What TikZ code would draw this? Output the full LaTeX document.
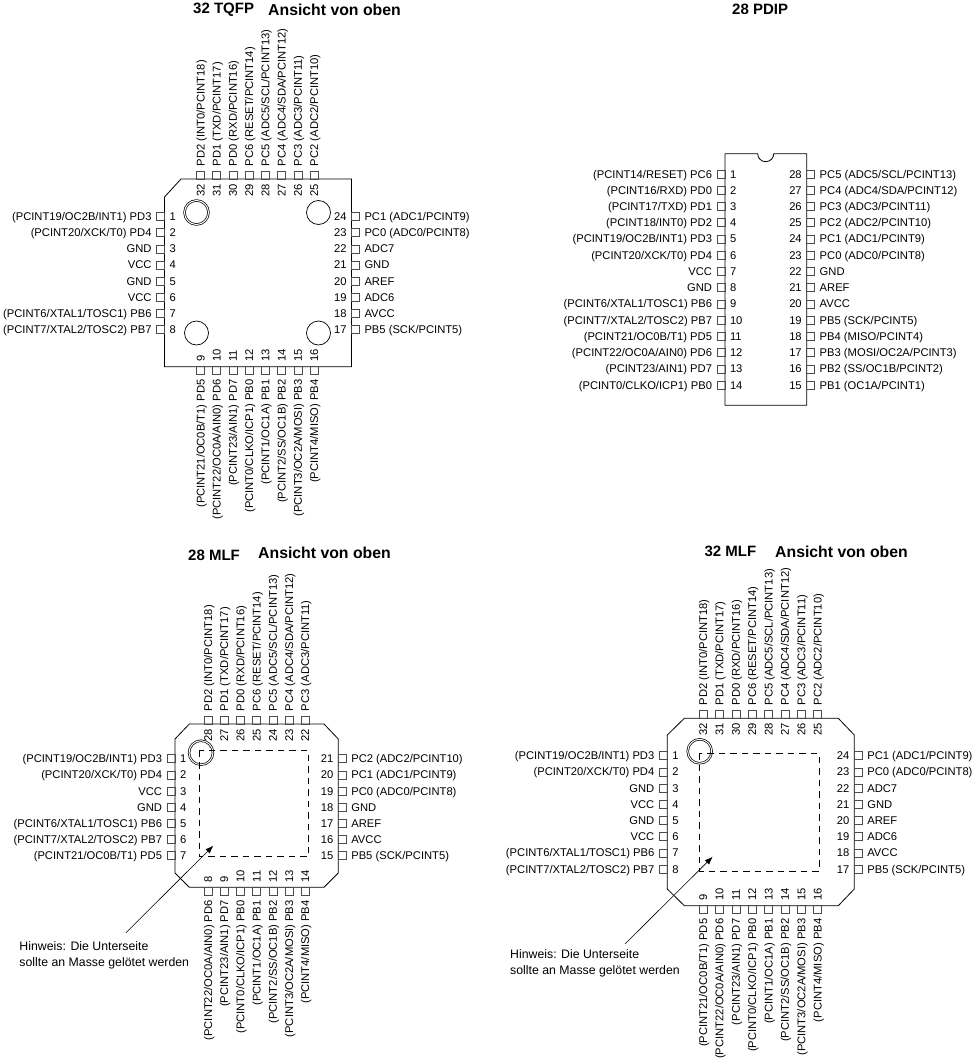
\documentclass[tikz,border=0pt]{standalone}
\usepackage{fontspec}
\setmainfont{Liberation Sans}
\usetikzlibrary{arrows.meta}
\tikzset{
	pad/.style={draw=black!70,line width=.6pt,minimum size=8pt,inner sep=0pt},
	every label/.style={inner sep=0pt,text height=8pt,text depth=0pt,font=\fontsize{11.2}{13}\selectfont},
	upw/.style={rotate=90,anchor=west,xshift=4.5pt,yshift=-4.5pt},
	dnw/.style={rotate=90,anchor=east,xshift=-4.5pt,yshift=4.5pt},
	chip/.style={draw=black,line width=.8pt},
	ring/.style={circle,draw=black,line width=.7pt,minimum size=24pt,inner sep=0pt},
	ringdbl/.style={ring,double,double distance=1pt},
	ttl/.style={anchor=west,inner sep=0pt,font=\bfseries\fontsize{15}{18}\selectfont},
	ttlview/.style={anchor=west,inner sep=0pt,font=\bfseries\fontsize{15.8}{18}\selectfont},
	hint/.style={anchor=north west,inner sep=0pt,align=left,font=\fontsize{12.3}{16}\selectfont},
	padarea/.style={draw=black,line width=.7pt,dash pattern=on 6.5pt off 5pt},
	hintarrow/.style={draw=black,line width=.6pt,-{Latex[length=8pt,width=6pt]}}
}
\begin{document}
\begin{tikzpicture}[x=1pt,y=-1pt,label distance=4.5pt]
	\useasboundingbox (0,0) rectangle (975,1060);

	\node[ttl] (tqname) at (193,10) {32 TQFP};
	\node[ttlview] (tqview) at (268,10) {Ansicht von oben};
	\draw[chip] (181,179)--(351.5,179)--(351.5,366.7)--(164.5,366.7)--(164.5,197)--cycle;
	\node[ringdbl] (tqc1) at (196.5,212.5) {};
	\node[ring] (tqc2) at (318.5,212.5) {};
	\node[ring] (tqc3) at (196.5,333) {};
	\node[ring] (tqc4) at (318.5,333) {};
	\node[pad,label={left:(PCINT19/OC2B/INT1) PD3},label={right:1}] (tq1) at (160.5,216.5) {};
	\node[pad,label={left:(PCINT20/XCK/T0) PD4},label={right:2}] (tq2) at (160.5,232.6) {};
	\node[pad,label={left:GND},label={right:3}] (tq3) at (160.5,248.8) {};
	\node[pad,label={left:VCC},label={right:4}] (tq4) at (160.5,264.9) {};
	\node[pad,label={left:GND},label={right:5}] (tq5) at (160.5,281.1) {};
	\node[pad,label={left:VCC},label={right:6}] (tq6) at (160.5,297.2) {};
	\node[pad,label={left:(PCINT6/XTAL1/TOSC1) PB6},label={right:7}] (tq7) at (160.5,313.4) {};
	\node[pad,label={left:(PCINT7/XTAL2/TOSC2) PB7},label={right:8}] (tq8) at (160.5,329.5) {};
	\node[pad,label={[dnw]below:(PCINT21/OC0B/T1) PD5},label={[upw]above:9}] (tq9) at (200.5,370.5) {};
	\node[pad,label={[dnw]below:(PCINT22/OC0A/AIN0) PD6},label={[upw]above:10}] (tq10) at (216.7,370.5) {};
	\node[pad,label={[dnw]below:(PCINT23/AIN1) PD7},label={[upw]above:11}] (tq11) at (232.9,370.5) {};
	\node[pad,label={[dnw]below:(PCINT0/CLKO/ICP1) PB0},label={[upw]above:12}] (tq12) at (249.1,370.5) {};
	\node[pad,label={[dnw]below:(PCINT1/OC1A) PB1},label={[upw]above:13}] (tq13) at (265.3,370.5) {};
	\node[pad,label={[dnw]below:(PCINT2/SS/OC1B) PB2},label={[upw]above:14}] (tq14) at (281.6,370.5) {};
	\node[pad,label={[dnw]below:(PCINT3/OC2A/MOSI) PB3},label={[upw]above:15}] (tq15) at (297.8,370.5) {};
	\node[pad,label={[dnw]below:(PCINT4/MISO) PB4},label={[upw]above:16}] (tq16) at (314,370.5) {};
	\node[pad,label={right:PB5 (SCK/PCINT5)},label={left:17}] (tq17) at (355.5,329.5) {};
	\node[pad,label={right:AVCC},label={left:18}] (tq18) at (355.5,313.4) {};
	\node[pad,label={right:ADC6},label={left:19}] (tq19) at (355.5,297.2) {};
	\node[pad,label={right:AREF},label={left:20}] (tq20) at (355.5,281.1) {};
	\node[pad,label={right:GND},label={left:21}] (tq21) at (355.5,264.9) {};
	\node[pad,label={right:ADC7},label={left:22}] (tq22) at (355.5,248.8) {};
	\node[pad,label={right:PC0 (ADC0/PCINT8)},label={left:23}] (tq23) at (355.5,232.6) {};
	\node[pad,label={right:PC1 (ADC1/PCINT9)},label={left:24}] (tq24) at (355.5,216.5) {};
	\node[pad,label={[upw]above:PC2 (ADC2/PCINT10)},label={[dnw]below:25}] (tq25) at (314,175) {};
	\node[pad,label={[upw]above:PC3 (ADC3/PCINT11)},label={[dnw]below:26}] (tq26) at (297.8,175) {};
	\node[pad,label={[upw]above:PC4 (ADC4/SDA/PCINT12)},label={[dnw]below:27}] (tq27) at (281.6,175) {};
	\node[pad,label={[upw]above:PC5 (ADC5/SCL/PCINT13)},label={[dnw]below:28}] (tq28) at (265.3,175) {};
	\node[pad,label={[upw]above:PC6 (RESET/PCINT14)},label={[dnw]below:29}] (tq29) at (249.1,175) {};
	\node[pad,label={[upw]above:PD0 (RXD/PCINT16)},label={[dnw]below:30}] (tq30) at (232.9,175) {};
	\node[pad,label={[upw]above:PD1 (TXD/PCINT17)},label={[dnw]below:31}] (tq31) at (216.7,175) {};
	\node[pad,label={[upw]above:PD2 (INT0/PCINT18)},label={[dnw]below:32}] (tq32) at (200.5,175) {};

	\node[ttl] (pdname) at (732,9) {28 PDIP};
	\draw[chip] (725,153.7)--(757.7,153.7) arc (180:0:8)--(806.7,153.7)--(806.7,405.3)--(725,405.3)--cycle;
	\node[pad,label={left:(PCINT14/RESET) PC6},label={right:1}] (pd1) at (721,174) {};
	\node[pad,label={left:(PCINT16/RXD) PD0},label={right:2}] (pd2) at (721,190.2) {};
	\node[pad,label={left:(PCINT17/TXD) PD1},label={right:3}] (pd3) at (721,206.5) {};
	\node[pad,label={left:(PCINT18/INT0) PD2},label={right:4}] (pd4) at (721,222.7) {};
	\node[pad,label={left:(PCINT19/OC2B/INT1) PD3},label={right:5}] (pd5) at (721,238.9) {};
	\node[pad,label={left:(PCINT20/XCK/T0) PD4},label={right:6}] (pd6) at (721,255.2) {};
	\node[pad,label={left:VCC},label={right:7}] (pd7) at (721,271.4) {};
	\node[pad,label={left:GND},label={right:8}] (pd8) at (721,287.6) {};
	\node[pad,label={left:(PCINT6/XTAL1/TOSC1) PB6},label={right:9}] (pd9) at (721,303.8) {};
	\node[pad,label={left:(PCINT7/XTAL2/TOSC2) PB7},label={right:10}] (pd10) at (721,320.1) {};
	\node[pad,label={left:(PCINT21/OC0B/T1) PD5},label={right:11}] (pd11) at (721,336.3) {};
	\node[pad,label={left:(PCINT22/OC0A/AIN0) PD6},label={right:12}] (pd12) at (721,352.5) {};
	\node[pad,label={left:(PCINT23/AIN1) PD7},label={right:13}] (pd13) at (721,368.8) {};
	\node[pad,label={left:(PCINT0/CLKO/ICP1) PB0},label={right:14}] (pd14) at (721,385) {};
	\node[pad,label={right:PB1 (OC1A/PCINT1)},label={left:15}] (pd15) at (810.7,385) {};
	\node[pad,label={right:PB2 (SS/OC1B/PCINT2)},label={left:16}] (pd16) at (810.7,368.8) {};
	\node[pad,label={right:PB3 (MOSI/OC2A/PCINT3)},label={left:17}] (pd17) at (810.7,352.5) {};
	\node[pad,label={right:PB4 (MISO/PCINT4)},label={left:18}] (pd18) at (810.7,336.3) {};
	\node[pad,label={right:PB5 (SCK/PCINT5)},label={left:19}] (pd19) at (810.7,320.1) {};
	\node[pad,label={right:AVCC},label={left:20}] (pd20) at (810.7,303.8) {};
	\node[pad,label={right:AREF},label={left:21}] (pd21) at (810.7,287.6) {};
	\node[pad,label={right:GND},label={left:22}] (pd22) at (810.7,271.4) {};
	\node[pad,label={right:PC0 (ADC0/PCINT8)},label={left:23}] (pd23) at (810.7,255.2) {};
	\node[pad,label={right:PC1 (ADC1/PCINT9)},label={left:24}] (pd24) at (810.7,238.9) {};
	\node[pad,label={right:PC2 (ADC2/PCINT10)},label={left:25}] (pd25) at (810.7,222.7) {};
	\node[pad,label={right:PC3 (ADC3/PCINT11)},label={left:26}] (pd26) at (810.7,206.5) {};
	\node[pad,label={right:PC4 (ADC4/SDA/PCINT12)},label={left:27}] (pd27) at (810.7,190.2) {};
	\node[pad,label={right:PC5 (ADC5/SCL/PCINT13)},label={left:28}] (pd28) at (810.7,174) {};

	\node[ttl] (maname) at (188,555) {28 MLF};
	\node[ttlview] (maview) at (258,553) {Ansicht von oben};
	\draw[chip] (189.3,724)--(324,724)--(338.3,739)--(338.3,873)--(324,887.3)--(189.3,887.3)--(175,873)--(175,739)--cycle;
	\node[ringdbl] (mac1) at (201,752.7) {};
	\draw[padarea] (199.3,750.7) rectangle (308.3,856.7);
	\node[hint] (mahint) at (19.3,941) {Hinweis: Die Unterseite\\sollte an Masse gelötet werden};
	\coordinate (mafrom) at (126,932.7);
	\coordinate (mato) at (213.3,845.7);
	\draw[hintarrow] (mafrom)--(mato);
	\node[pad,label={left:(PCINT19/OC2B/INT1) PD3},label={right:1}] (ma1) at (171,758.7) {};
	\node[pad,label={left:(PCINT20/XCK/T0) PD4},label={right:2}] (ma2) at (171,774.9) {};
	\node[pad,label={left:VCC},label={right:3}] (ma3) at (171,791) {};
	\node[pad,label={left:GND},label={right:4}] (ma4) at (171,807.2) {};
	\node[pad,label={left:(PCINT6/XTAL1/TOSC1) PB6},label={right:5}] (ma5) at (171,823.4) {};
	\node[pad,label={left:(PCINT7/XTAL2/TOSC2) PB7},label={right:6}] (ma6) at (171,839.6) {};
	\node[pad,label={left:(PCINT21/OC0B/T1) PD5},label={right:7}] (ma7) at (171,855.7) {};
	\node[pad,label={[dnw]below:(PCINT22/OC0A/AIN0) PD6},label={[upw]above:8}] (ma8) at (208,891.3) {};
	\node[pad,label={[dnw]below:(PCINT23/AIN1) PD7},label={[upw]above:9}] (ma9) at (224.2,891.3) {};
	\node[pad,label={[dnw]below:(PCINT0/CLKO/ICP1) PB0},label={[upw]above:10}] (ma10) at (240.4,891.3) {};
	\node[pad,label={[dnw]below:(PCINT1/OC1A) PB1},label={[upw]above:11}] (ma11) at (256.6,891.3) {};
	\node[pad,label={[dnw]below:(PCINT2/SS/OC1B) PB2},label={[upw]above:12}] (ma12) at (272.8,891.3) {};
	\node[pad,label={[dnw]below:(PCINT3/OC2A/MOSI) PB3},label={[upw]above:13}] (ma13) at (289,891.3) {};
	\node[pad,label={[dnw]below:(PCINT4/MISO) PB4},label={[upw]above:14}] (ma14) at (305.2,891.3) {};
	\node[pad,label={right:PB5 (SCK/PCINT5)},label={left:15}] (ma15) at (342.3,855.7) {};
	\node[pad,label={right:AVCC},label={left:16}] (ma16) at (342.3,839.6) {};
	\node[pad,label={right:AREF},label={left:17}] (ma17) at (342.3,823.4) {};
	\node[pad,label={right:GND},label={left:18}] (ma18) at (342.3,807.2) {};
	\node[pad,label={right:PC0 (ADC0/PCINT8)},label={left:19}] (ma19) at (342.3,791) {};
	\node[pad,label={right:PC1 (ADC1/PCINT9)},label={left:20}] (ma20) at (342.3,774.9) {};
	\node[pad,label={right:PC2 (ADC2/PCINT10)},label={left:21}] (ma21) at (342.3,758.7) {};
	\node[pad,label={[upw]above:PC3 (ADC3/PCINT11)},label={[dnw]below:22}] (ma22) at (305.2,720) {};
	\node[pad,label={[upw]above:PC4 (ADC4/SDA/PCINT12)},label={[dnw]below:23}] (ma23) at (289,720) {};
	\node[pad,label={[upw]above:PC5 (ADC5/SCL/PCINT13)},label={[dnw]below:24}] (ma24) at (272.8,720) {};
	\node[pad,label={[upw]above:PC6 (RESET/PCINT14)},label={[dnw]below:25}] (ma25) at (256.6,720) {};
	\node[pad,label={[upw]above:PD0 (RXD/PCINT16)},label={[dnw]below:26}] (ma26) at (240.4,720) {};
	\node[pad,label={[upw]above:PD1 (TXD/PCINT17)},label={[dnw]below:27}] (ma27) at (224.2,720) {};
	\node[pad,label={[upw]above:PD2 (INT0/PCINT18)},label={[dnw]below:28}] (ma28) at (208,720) {};

	\node[ttl] (mbname) at (704.3,551.7) {32 MLF};
	\node[ttlview] (mbview) at (775,551.7) {Ansicht von oben};
	\draw[chip] (684.3,718.3)--(838.3,718.3)--(854.3,735)--(854.3,889)--(838.3,905.7)--(684.3,905.7)--(667.3,889)--(667.3,735)--cycle;
	\node[ringdbl] (mbc1) at (699.7,751.3) {};
	\draw[padarea] (699.7,753.3) rectangle (819,871);
	\node[hint] (mbhint) at (510,949) {Hinweis: Die Unterseite\\sollte an Masse gelötet werden};
	\coordinate (mbfrom) at (625,944);
	\coordinate (mbto) at (712.7,856.7);
	\draw[hintarrow] (mbfrom)--(mbto);
	\node[pad,label={left:(PCINT19/OC2B/INT1) PD3},label={right:1}] (mb1) at (663.3,755.7) {};
	\node[pad,label={left:(PCINT20/XCK/T0) PD4},label={right:2}] (mb2) at (663.3,771.9) {};
	\node[pad,label={left:GND},label={right:3}] (mb3) at (663.3,788.1) {};
	\node[pad,label={left:VCC},label={right:4}] (mb4) at (663.3,804.3) {};
	\node[pad,label={left:GND},label={right:5}] (mb5) at (663.3,820.5) {};
	\node[pad,label={left:VCC},label={right:6}] (mb6) at (663.3,836.7) {};
	\node[pad,label={left:(PCINT6/XTAL1/TOSC1) PB6},label={right:7}] (mb7) at (663.3,852.9) {};
	\node[pad,label={left:(PCINT7/XTAL2/TOSC2) PB7},label={right:8}] (mb8) at (663.3,869.1) {};
	\node[pad,label={[dnw]below:(PCINT21/OC0B/T1) PD5},label={[upw]above:9}] (mb9) at (703,909.7) {};
	\node[pad,label={[dnw]below:(PCINT22/OC0A/AIN0) PD6},label={[upw]above:10}] (mb10) at (719.4,909.7) {};
	\node[pad,label={[dnw]below:(PCINT23/AIN1) PD7},label={[upw]above:11}] (mb11) at (735.8,909.7) {};
	\node[pad,label={[dnw]below:(PCINT0/CLKO/ICP1) PB0},label={[upw]above:12}] (mb12) at (752.1,909.7) {};
	\node[pad,label={[dnw]below:(PCINT1/OC1A) PB1},label={[upw]above:13}] (mb13) at (768.5,909.7) {};
	\node[pad,label={[dnw]below:(PCINT2/SS/OC1B) PB2},label={[upw]above:14}] (mb14) at (784.9,909.7) {};
	\node[pad,label={[dnw]below:(PCINT3/OC2A/MOSI) PB3},label={[upw]above:15}] (mb15) at (801.3,909.7) {};
	\node[pad,label={[dnw]below:(PCINT4/MISO) PB4},label={[upw]above:16}] (mb16) at (817.7,909.7) {};
	\node[pad,label={right:PB5 (SCK/PCINT5)},label={left:17}] (mb17) at (858.3,869.1) {};
	\node[pad,label={right:AVCC},label={left:18}] (mb18) at (858.3,852.9) {};
	\node[pad,label={right:ADC6},label={left:19}] (mb19) at (858.3,836.7) {};
	\node[pad,label={right:AREF},label={left:20}] (mb20) at (858.3,820.5) {};
	\node[pad,label={right:GND},label={left:21}] (mb21) at (858.3,804.3) {};
	\node[pad,label={right:ADC7},label={left:22}] (mb22) at (858.3,788.1) {};
	\node[pad,label={right:PC0 (ADC0/PCINT8)},label={left:23}] (mb23) at (858.3,771.9) {};
	\node[pad,label={right:PC1 (ADC1/PCINT9)},label={left:24}] (mb24) at (858.3,755.7) {};
	\node[pad,label={[upw]above:PC2 (ADC2/PCINT10)},label={[dnw]below:25}] (mb25) at (817.7,714.3) {};
	\node[pad,label={[upw]above:PC3 (ADC3/PCINT11)},label={[dnw]below:26}] (mb26) at (801.3,714.3) {};
	\node[pad,label={[upw]above:PC4 (ADC4/SDA/PCINT12)},label={[dnw]below:27}] (mb27) at (784.9,714.3) {};
	\node[pad,label={[upw]above:PC5 (ADC5/SCL/PCINT13)},label={[dnw]below:28}] (mb28) at (768.5,714.3) {};
	\node[pad,label={[upw]above:PC6 (RESET/PCINT14)},label={[dnw]below:29}] (mb29) at (752.1,714.3) {};
	\node[pad,label={[upw]above:PD0 (RXD/PCINT16)},label={[dnw]below:30}] (mb30) at (735.8,714.3) {};
	\node[pad,label={[upw]above:PD1 (TXD/PCINT17)},label={[dnw]below:31}] (mb31) at (719.4,714.3) {};
	\node[pad,label={[upw]above:PD2 (INT0/PCINT18)},label={[dnw]below:32}] (mb32) at (703,714.3) {};
\end{tikzpicture}
\end{document}
